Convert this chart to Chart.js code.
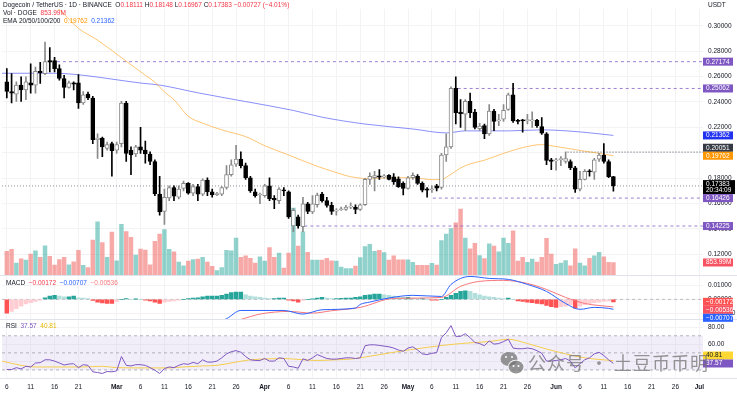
<!DOCTYPE html>
<html>
<head>
<meta charset="utf-8">
<script src="https://cdn.jsdelivr.net/npm/chart.js@4.4.1/dist/chart.umd.min.js"></script>
<style>
  html, body { margin: 0; padding: 0; background: #fff; }
  canvas { display: block; }
</style>
</head>
<body>
<canvas id="chart" width="737" height="395"></canvas>
<script>
// daily candles, Feb 6 → Jun 13 (index 0 = Feb 6)
const opens = [
  .2559,.2482,.2462,.2533,.2495,.2551,.2533,.2641,.2623,.2726,
  .2726,.2662,.2585,.2515,.2551,.2551,.2392,.2461,.2431,.2103,
  .2115,.2033,.2072,.2020,.2072,.2392,.2020,.1990,.2046,.2020,
  .1990,.1931,.1675,.1538,.1644,.1726,.1649,.1718,.1759,.1682,
  .1733,.1674,.1785,.1692,.1670,.1674,.1726,.1828,.1910,.1949,
  .1898,.1803,.1692,.1667,.1661,.1739,.1641,.1623,.1708,.1692,
  .1423,.1495,.1418,.1598,.1533,.1590,.1674,.1623,.1585,.1540,
  .1551,.1554,.1572,.1572,.1554,.1590,.1790,.1803,.1818,.1810,
  .1821,.1810,.1795,.1759,.1718,.1803,.1815,.1759,.1715,.1708,
  .1739,.1726,.1982,.2046,.2508,.2320,.2303,.2405,.2320,.2190,
  .2213,.2149,.2328,.2251,.2264,.2341,.2456,.2256,.2254,.2251,
  .2251,.2256,.2205,.2149,.1944,.1936,.1944,.1931,.1931,.1880,
  .1713,.1790,.1854,.1847,.1949,.1982,.1931,.18111
];
const highs = [
  .2662,.2623,.2559,.2597,.2597,.2700,.2674,.2713,.2872,.2828,
  .2751,.2692,.2610,.2564,.2559,.2615,.2482,.2477,.2444,.2149,
  .2123,.2084,.2084,.2084,.2405,.2405,.2046,.2059,.2200,.2092,
  .2008,.1944,.1815,.1713,.1739,.1739,.1739,.1777,.1764,.1751,
  .1751,.1795,.1803,.1713,.1687,.1733,.1898,.1944,.2059,.2008,
  .1918,.1815,.1713,.1682,.1751,.1803,.1662,.1726,.1726,.1700,
  .1559,.1508,.1649,.1610,.1662,.1682,.1687,.1649,.1610,.1559,
  .1572,.1585,.1605,.1590,.1598,.1798,.1841,.1854,.1867,.1828,
  .1828,.1836,.1810,.1770,.1815,.1841,.1828,.1770,.1726,.1739,
  .1751,.1995,.2149,.2520,.2597,.2418,.2418,.2469,.2341,.2231,
  .2226,.2379,.2341,.2303,.2379,.2469,.2546,.2264,.2264,.2303,
  .2323,.2264,.2277,.2159,.1956,.1956,.1969,.2008,.1944,.1892,
  .1854,.1867,.1867,.1956,.1995,.2072,.1944,.18148
];
const lows = [
  .2431,.2392,.2405,.2405,.2418,.2469,.2469,.2546,.2615,.2636,
  .2636,.2572,.2431,.2508,.2495,.2349,.2380,.2418,.2072,.1956,
  .1969,.2020,.1815,.1995,.2046,.1931,.1828,.1969,.1995,.1918,
  .1905,.1662,.1508,.1436,.1623,.1623,.1636,.1700,.1674,.1662,
  .1623,.1662,.1662,.1649,.1662,.1662,.1713,.1815,.1892,.1880,
  .1790,.1687,.1649,.1598,.1649,.1623,.1559,.1598,.1662,.1482,
  .1379,.1405,.1379,.1520,.1520,.1572,.1610,.1572,.1513,.1508,
  .1546,.1546,.1559,.1520,.1546,.1585,.1751,.1700,.1790,.1800,
  .1785,.1751,.1726,.1667,.1713,.1790,.1751,.1692,.1649,.1687,
  .1700,.1713,.1931,.2033,.2226,.2200,.2174,.2277,.2187,.2174,
  .2110,.2136,.2174,.2213,.2246,.2333,.2238,.2226,.2162,.2226,
  .2200,.2200,.2144,.1905,.1867,.1862,.1898,.1918,.1867,.1687,
  .1700,.1785,.1816,.1790,.1931,.1918,.1803,.16967
];
const closes = [
  .2482,.2470,.2533,.2495,.2559,.2533,.2641,.2628,.2718,.2713,
  .2662,.2585,.2515,.2551,.2541,.2392,.2456,.2431,.2103,.2115,
  .2046,.2064,.2016,.2064,.2392,.1995,.1982,.2046,.2020,.1990,
  .1931,.1675,.1533,.1649,.1726,.1657,.1713,.1759,.1682,.1733,
  .1674,.1785,.1692,.1667,.1679,.1726,.1828,.1905,.1949,.1898,
  .1803,.1700,.1661,.1670,.1739,.1636,.1628,.1713,.1700,.1495,
  .1546,.1423,.1598,.1538,.1598,.1667,.1623,.1585,.1538,.1546,
  .1556,.1572,.1575,.1554,.1590,.1790,.1815,.1820,.1808,.1818,
  .1790,.1770,.1733,.1718,.1803,.1821,.1759,.1705,.1705,.1715,
  .1721,.1982,.2046,.2508,.2315,.2308,.2405,.2315,.2200,.2210,
  .2149,.2328,.2246,.2256,.2333,.2456,.2251,.2246,.2251,.2262,
  .2254,.2213,.2154,.1939,.1931,.1941,.1954,.1954,.1880,.1713,
  .1790,.1854,.1849,.1944,.1982,.1931,.18110,.17383
];
// volume, millions of DOGE
const volumes = [
  1584,1712,813,1091,1006,1412,1626,1198,1947,1263,
  685,1049,1198,706,899,1648,663,514,2333,3531,
  2161,1198,2846,963,3360,2889,2504,1348,1733,1669,
  706,2247,2718,3017,1712,1562,877,642,942,1049,
  1070,1198,877,599,321,514,1648,1626,2461,1198,
  1284,1134,813,1220,942,1840,1198,1477,492,1477,
  4430,1926,2868,1519,1006,1006,1006,1134,963,942,
  556,449,449,621,1177,1905,2054,1584,1648,1498,
  1006,1284,1027,1027,1027,856,663,663,663,792,
  685,2290,2718,3082,3467,4366,2461,1755,2119,1305,
  1113,2076,1926,1562,2461,2119,2932,942,1198,856,
  1070,877,1198,2440,1412,728,813,984,642,1755,
  813,642,1134,1284,1519,1220,856,853.99
];
const macdHist = [
  -.0098,-.0086,-.0067,-.0048,-.0033,-.0024,-.0014,-.0005,.0012,.0024,
  .0029,.0024,.0019,.0019,.0024,.0012,.0010,.0005,-.0007,-.0019,
  -.0026,-.0029,-.0029,-.0014,0,.0005,0,.0002,0,-.0005,
  -.0010,-.0019,-.0029,-.0019,-.0014,-.0010,-.0005,0,.0005,.0010,
  .0012,.0019,.0024,.0024,.0024,.0029,.0038,.0048,.0052,.0052,
  .0033,.0024,.0019,.0014,.0010,.0005,.0005,.0010,.0010,-.0005,
  -.0010,-.0019,-.0007,0,.0002,.0010,.0014,.0010,.0005,.0005,
  .0008,.0010,.0010,.0014,.0019,.0029,.0033,.0038,.0038,.0033,
  .0029,.0024,.0019,.0014,.0014,.0010,.0005,.0005,0,-.0005,
  -.0005,0,.0014,.0029,.0043,.0057,.0062,.0057,.0043,.0033,
  .0024,.0019,.0014,.0010,.0005,.0010,0,-.0010,-.0014,-.0019,
  -.0024,-.0029,-.0033,-.0043,-.0052,-.0057,-.0052,-.0048,-.0038,-.0062,
  -.0048,-.0038,-.0029,-.0024,-.0019,-.0014,-.0010,-.00172
];
const rsiVals = [
  30.5,30.5,32.7,31.2,34.3,33.5,38.1,38.5,41.9,41.9,
  40.4,38.1,35.8,36.9,37.3,32.7,36.2,35.4,27.8,27.0,
  25.9,28.2,27.8,28.9,45.7,35.4,34.7,36.2,36.2,35.4,
  32.7,29.7,25.9,31.6,33.5,32.7,35.4,37.3,36.6,38.8,
  37.3,41.9,39.2,39.2,40.4,44.2,48.8,51.4,52.6,50.7,
  45.7,41.9,41.1,41.1,43.4,40.4,40.4,44.2,43.4,34.3,
  33.5,32.0,43.0,41.1,44.2,48.0,45.7,43.4,42.7,42.7,
  43.4,44.2,44.2,43.4,44.2,58.3,59.4,59.4,58.7,57.9,
  57.1,55.6,53.3,51.8,55.6,57.1,53.3,48.8,48.0,49.5,
  50.3,67.8,73.5,81.9,69.3,69.3,72.4,67.8,62.1,60.9,
  58.3,64.0,60.2,60.9,63.2,65.9,55.6,54.8,54.8,55.6,
  54.8,52.6,49.5,40.4,40.4,41.1,41.9,43.4,40.4,32.4,
  37.3,41.9,44.2,48.8,50.7,46.8,41.9,37.57
];

// smooth lines read at sample days
const ema50Days = [9,11,15,19,24,29,31,33,35,38,41,45,50,54,59,65,68,72,76,80,85,89,91,93,95,97,100,104,109,112,115,120,124,127];
const ema50Vals = [.3172,.3126,.2980,.2887,.2749,.2610,.2556,.2479,.2418,.2287,.2233,.2180,.2127,.2055,.1982,.1893,.1856,.1811,.1796,.1803,.1803,.1788,.1790,.1830,.1880,.1912,.1941,.1995,.2049,.2064,.2049,.2018,.1995,.19762];
const ema200Days = [-1,10,16,22,28,32,40,50,60,66,75,85,92,96,105,112,120,127];
const ema200Vals = [.2626,.2626,.2610,.2580,.2549,.2533,.2472,.2403,.2333,.2280,.2226,.2187,.2156,.2172,.2172,.2180,.2164,.21362];
const macdDays = [42,46,49,58,62,66,73,74,76,80,85,91,93,97,101,105,109,113,117,120,123,126,127];
const macdVals = [-.0190,-.0138,-.0079,-.0079,-.0105,-.0074,-.0062,-.0036,-.0019,.0010,.0029,.0021,.0107,.0164,.0150,.0143,.0107,.0057,-.0029,-.0071,-.0057,-.0064,-.00707];
const signalDays = [45,49,53,59,64,68,74,81,91,95,99,104,109,113,117,121,127];
const signalVals = [-.0175,-.0143,-.0105,-.0086,-.0098,-.0081,-.0057,.0007,.0014,.0093,.0129,.0136,.0114,.0071,.0014,-.0029,-.00536];
const rsiMaDays = [-1,3,6,16,20,23,30,34,37,41,44,48,51,55,58,62,65,69,72,74,81,88,95,101,105,109,113,117,121,127];
const rsiMaVals = [40.4,35.4,33.5,33.5,34.3,32.7,32.4,32.4,33.5,34.7,35.4,39.2,41.9,43.0,43.4,41.9,41.1,41.9,42.7,44.2,50.7,56.4,60.9,63.2,65.9,60.9,54.5,48.8,44.2,40.81];

// horizontal levels
const levelValues = [0.27174, 0.25062, 0.16426, 0.14225];
const levelFrom = [10.5, 94.4, 89.2, 62.3];
const pivotValue = 0.20051, pivotFrom = 117.4;
const countdown = '20:34:09';

// time axis
const tickDays = [0,5,10,15,23,28,33,38,43,48,54,59,64,69,74,79,84,89,94,99,104,109,115,120,125,130,135,140,145];
const tickLabels = ['6','11','16','21','Mar','6','11','16','21','26','Apr','6','11','16','21','26','May','6','11','16','21','26','Jun','6','11','16','21','26','Jul'];

const X_MIN = -1.0, X_MAX = 145.76;
const P_MIN = 0.1033, P_MAX = 0.3133;
const M_MIN = -0.0143, M_MAX = 0.0171;
const R_MIN = 20.6, R_MAX = 89.1;
const VOL_PER_PX = 64.2;
const PANE = [273, 45, 60];

const FONT = '"Liberation Sans", Arial, sans-serif';
const DARK = '#131722', RED = '#f23645', ORANGE = '#ff9800', BLUE = '#2962ff';
const PURPLE = '#7e57c2', YELLOW = '#f5cd4c';
const GRID = '#f3f3f5';

Chart.defaults.font.family = FONT;
Chart.defaults.font.size = 6.5;
Chart.defaults.color = DARK;

const last = closes.length - 1;
const isUp = closes.map((c, i) => c >= opens[i]);
const pts = (days, vals) => days.map((d, i) => ({ x: d, y: vals[i] }));
const hline = (from, v) => [{ x: from, y: v }, { x: X_MAX, y: v }];

const histColors = macdHist.map((v, i) => {
  const p = i > 0 ? macdHist[i - 1] : (v >= 0 ? -Infinity : Infinity);
  if (v >= 0) return v >= p ? '#26a69a' : '#b2dfdb';
  return v <= p ? '#ff5252' : '#ffcdd2';
});

const lineBase = { type: 'line', pointRadius: 0, borderWidth: 1, fill: false };

const datasets = [
  // RSI pane background + guides
  { ...lineBase, data: hline(X_MIN, 70), yAxisID: 'rsi', borderWidth: 0,
    fill: { value: 30 }, backgroundColor: 'rgba(126,87,194,0.10)', order: 30 },
  ...[70, 50, 30].map(v => ({ ...lineBase, data: hline(X_MIN, v), yAxisID: 'rsi',
    borderColor: 'rgba(120,123,134,0.55)', borderDash: [3, 3], order: 29 })),
  // MACD zero
  { ...lineBase, data: hline(X_MIN, 0), yAxisID: 'macd', borderColor: 'rgba(120,123,134,0.45)',
    borderDash: [3, 3], order: 29 },
  // volume
  { type: 'bar', data: volumes.map((v, i) => ({ x: i, y: v })), yAxisID: 'vol', grouped: false,
    barThickness: 3.8, backgroundColor: isUp.map(u => u ? 'rgba(38,166,154,0.5)' : 'rgba(239,83,80,0.5)'),
    order: 25 },
  // levels
  ...levelValues.map((v, i) => ({ ...lineBase, data: hline(levelFrom[i], v), yAxisID: 'price',
    borderColor: 'rgba(126,87,194,0.75)', borderDash: [3, 3], order: 20 })),
  { ...lineBase, data: hline(pivotFrom, pivotValue), yAxisID: 'price', borderColor: '#50535e',
    borderDash: [1, 2], order: 20 },
  { ...lineBase, data: hline(X_MIN, closes[last]), yAxisID: 'price', borderColor: '#8a8d96',
    borderDash: [1, 2], order: 20 },
  // EMAs
  { ...lineBase, data: pts(ema50Days, ema50Vals), yAxisID: 'price', borderColor: 'rgba(255,152,0,0.55)',
    cubicInterpolationMode: 'monotone', order: 18 },
  { ...lineBase, data: pts(ema200Days, ema200Vals), yAxisID: 'price', borderColor: 'rgba(60,70,245,0.6)',
    cubicInterpolationMode: 'monotone', order: 18 },
  // candles
  { type: 'bar', data: lows.map((l, i) => ({ x: i, y: [l, highs[i]] })), yAxisID: 'price', grouped: false,
    barThickness: 1, backgroundColor: isUp.map(u => u ? '#8a8a8a' : '#000'), order: 12 },
  { type: 'bar', data: opens.map((o, i) => ({ x: i, y: [o, closes[i]] })), yAxisID: 'price', grouped: false,
    barThickness: 4, minBarLength: 1, borderWidth: 1, borderSkipped: false,
    backgroundColor: isUp.map(u => u ? '#ffffff' : '#000'),
    borderColor: isUp.map(u => u ? '#8a8a8a' : '#000'), order: 10 },
  // MACD
  { type: 'bar', data: macdHist.map((v, i) => ({ x: i, y: v })), yAxisID: 'macd', grouped: false,
    barThickness: 3.8, backgroundColor: histColors, order: 15 },
  { ...lineBase, data: pts(macdDays, macdVals), yAxisID: 'macd', borderColor: BLUE,
    cubicInterpolationMode: 'monotone', order: 5 },
  { ...lineBase, data: pts(signalDays, signalVals), yAxisID: 'macd', borderColor: '#f7767a',
    cubicInterpolationMode: 'monotone', order: 5 },
  // RSI
  { ...lineBase, data: pts(rsiMaDays, rsiMaVals), yAxisID: 'rsi', borderColor: YELLOW,
    cubicInterpolationMode: 'monotone', order: 6 },
  { ...lineBase, data: rsiVals.map((v, i) => ({ x: i, y: v })), yAxisID: 'rsi', borderColor: PURPLE, order: 5 }
];

const fmtSigned = (v, d) => (v < 0 ? '\u2212' : '') + Math.abs(v).toFixed(d);
const yAxis = (extra) => Object.assign({
  position: 'right', stack: 'panes',
  afterFit: s => { s.width = 34; },
  grid: { color: GRID, drawTicks: false },
  border: { display: false }
}, extra);

// clip every dataset to its own pane
const paneClip = {
  id: 'paneClip',
  beforeDatasetDraw(chart, args) {
    const ys = args.meta.yScale, a = chart.chartArea, ctx = chart.ctx;
    ctx.save();
    ctx.beginPath();
    ctx.rect(a.left, ys.top, a.width, ys.height);
    ctx.clip();
  },
  afterDatasetDraw(chart) { chart.ctx.restore(); }
};

function drawParts(ctx, x, y, parts) {
  for (const [t, c] of parts) {
    ctx.fillStyle = c;
    ctx.fillText(t, x, y);
    x += ctx.measureText(t).width;
  }
}

function drawTags(chart, scaleId, tags, dir) {
  const s = chart.scales[scaleId], ctx = chart.ctx;
  const items = tags.map(t => {
    const y = s.getPixelForValue(t.v);
    return Object.assign({ top: y - 4, h: t.t2 ? 14 : 8 }, t);
  }).sort((a, b) => a.top - b.top);
  if (dir > 0) {
    for (let i = 1; i < items.length; i++) {
      const p = items[i - 1];
      if (items[i].top < p.top + p.h) items[i].top = p.top + p.h;
    }
  } else {
    for (let i = items.length - 2; i >= 0; i--) {
      const n = items[i + 1];
      if (items[i].top + items[i].h > n.top) items[i].top = n.top - items[i].h;
    }
  }
  const x0 = chart.chartArea.right;
  ctx.textBaseline = 'middle';
  ctx.textAlign = 'left';
  for (const t of items) {
    ctx.fillStyle = t.bg;
    ctx.fillRect(x0, t.top, t.t2 ? 32 : 30, t.h);
    ctx.fillStyle = t.fg || '#fff';
    ctx.fillText(t.text, x0 + 3, t.top + 4.2);
    if (t.t2) ctx.fillText(t.t2, x0 + 3, t.top + 10.5);
  }
}

const overlay = {
  id: 'overlay',
  afterDraw(chart) {
    const ctx = chart.ctx, a = chart.chartArea;
    const price = chart.scales.price, macd = chart.scales.macd, rsi = chart.scales.rsi;
    ctx.save();
    // pane separators
    ctx.strokeStyle = '#e0e3eb';
    ctx.lineWidth = 1;
    [price.bottom, macd.bottom, rsi.bottom].forEach(y => {
      ctx.beginPath();
      ctx.moveTo(0, Math.round(y) + 0.5);
      ctx.lineTo(chart.width, Math.round(y) + 0.5);
      ctx.stroke();
    });

    ctx.font = '6.5px ' + FONT;
    ctx.textBaseline = 'middle';
    ctx.textAlign = 'left';
    const c = closes[last], prev = closes[last - 1], ch = c - prev;
    drawParts(ctx, 3, 5, [
      ['Dogecoin / TetherUS \u00b7 1D \u00b7 BINANCE  ', DARK],
      ['O', DARK], [opens[last].toFixed(5) + ' ', RED],
      ['H', DARK], [highs[last].toFixed(5) + ' ', RED],
      ['L', DARK], [lows[last].toFixed(5) + ' ', RED],
      ['C', DARK], [c.toFixed(5) + ' ', RED],
      [fmtSigned(ch, 5) + ' (' + fmtSigned(ch / prev * 100, 2) + '%)', RED]
    ]);
    drawParts(ctx, 3, 13, [['Vol \u00b7 DOGE  ', DARK], [volumes[last].toFixed(2) + 'M', RED]]);
    drawParts(ctx, 3, 21, [
      ['EMA 20/50/100/200  ', DARK],
      [ema50Vals[ema50Vals.length - 1].toFixed(5) + '  ', ORANGE],
      [ema200Vals[ema200Vals.length - 1].toFixed(5), BLUE]
    ]);
    drawParts(ctx, 6, macd.top + 8, [
      ['MACD  ', DARK],
      [fmtSigned(macdHist[last], 5) + '  ', RED],
      [fmtSigned(macdVals[macdVals.length - 1], 5) + '  ', BLUE],
      [fmtSigned(signalVals[signalVals.length - 1], 5), '#f7767a']
    ]);
    drawParts(ctx, 6, rsi.top + 7, [
      ['RSI  ', DARK],
      [rsiVals[last].toFixed(2) + '  ', PURPLE],
      [rsiMaVals[rsiMaVals.length - 1].toFixed(2), '#e6b800']
    ]);
    ctx.fillStyle = DARK;
    ctx.fillText('USDT', a.right + 5, 5);

    // price-axis tags
    const tags = levelValues.map(v => ({ v, text: v.toFixed(5), bg: PURPLE }));
    tags.push(
      { v: ema200Vals[ema200Vals.length - 1], text: ema200Vals[ema200Vals.length - 1].toFixed(5), bg: '#2233f0' },
      { v: pivotValue, text: pivotValue.toFixed(5), bg: '#363a45' },
      { v: ema50Vals[ema50Vals.length - 1], text: ema50Vals[ema50Vals.length - 1].toFixed(5), bg: ORANGE },
      { v: c, text: c.toFixed(5), t2: countdown, bg: '#000' }
    );
    drawTags(chart, 'price', tags, -1);
    drawTags(chart, 'vol', [{ v: volumes[last], text: volumes[last].toFixed(2) + 'M', bg: '#f7525f' }], -1);
    drawTags(chart, 'macd', [
      { v: macdHist[last], text: fmtSigned(macdHist[last], 5), bg: '#ff5252' },
      { v: signalVals[signalVals.length - 1], text: fmtSigned(signalVals[signalVals.length - 1], 5), bg: '#f7525f' },
      { v: macdVals[macdVals.length - 1], text: fmtSigned(macdVals[macdVals.length - 1], 5), bg: BLUE }
    ], 1);
    drawTags(chart, 'rsi', [
      { v: rsiMaVals[rsiMaVals.length - 1], text: rsiMaVals[rsiMaVals.length - 1].toFixed(2), bg: '#fdd835', fg: DARK },
      { v: rsiVals[last], text: rsiVals[last].toFixed(2), bg: PURPLE }
    ], -1);

    // watermark
    ctx.fillStyle = 'rgba(115,115,115,0.75)';
    ctx.beginPath(); ctx.ellipse(509, 359, 8.5, 7, 0, 0, Math.PI * 2); ctx.fill();
    ctx.strokeStyle = '#fff'; ctx.lineWidth = 1.5;
    ctx.beginPath(); ctx.ellipse(516, 367, 7.5, 6.5, 0, 0, Math.PI * 2); ctx.stroke(); ctx.fill();
    ctx.fillStyle = '#fff';
    [[506, 357], [512, 357], [513.5, 366], [518.5, 366]].forEach(([x, y]) => {
      ctx.beginPath(); ctx.arc(x, y, 1, 0, Math.PI * 2); ctx.fill();
    });
    ctx.fillStyle = 'rgba(115,115,115,0.75)';
    ctx.font = '18px "Noto Sans CJK SC", sans-serif';
    ctx.letterSpacing = '1px';
    ctx.fillText('公众号 · 土豆币币明', 528, 363);
    ctx.restore();
  }
};

new Chart(document.getElementById('chart'), {
  type: 'bar',
  data: { datasets },
  options: {
    responsive: false,
    animation: false,
    layout: { padding: 0 },
    plugins: { legend: { display: false }, tooltip: { enabled: false } },
    scales: {
      x: {
        type: 'linear', position: 'bottom', min: X_MIN, max: X_MAX, offset: false,
        afterBuildTicks: s => { s.ticks = tickDays.map(v => ({ value: v })); },
        afterFit: s => { s.height = 17; },
        ticks: {
          autoSkip: false, maxRotation: 0, minRotation: 0, padding: 5, color: DARK,
          callback: (v, i) => tickLabels[i],
          font: ctx => ({ size: 6.5, weight: /^[A-Z]/.test(tickLabels[ctx.index] || '') ? 'bold' : 'normal' })
        },
        grid: { color: GRID, drawTicks: false, offset: false },
        border: { display: false }
      },
      price: yAxis({
        stackWeight: PANE[0], min: P_MIN, max: P_MAX,
        ticks: { stepSize: 0.02, includeBounds: false, padding: 5, color: DARK, callback: v => v.toFixed(5) }
      }),
      macd: yAxis({
        stackWeight: PANE[1], min: M_MIN, max: M_MAX,
        ticks: { stepSize: 0.01, includeBounds: false, padding: 5, color: DARK, callback: v => fmtSigned(v, 5) }
      }),
      rsi: yAxis({
        stackWeight: PANE[2], min: R_MIN, max: R_MAX,
        ticks: { stepSize: 20, includeBounds: false, padding: 5, color: DARK, callback: v => v.toFixed(2) }
      }),
      // left-side boxes are laid out in reverse order: the pad goes first so volume sits on top
      pad: {
        type: 'linear', position: 'left', display: false, stack: 'left', stackWeight: PANE[1] + PANE[2]
      },
      vol: {
        type: 'linear', position: 'left', display: false, stack: 'left', stackWeight: PANE[0],
        min: 0, max: VOL_PER_PX * PANE[0]
      }
    }
  },
  plugins: [paneClip, overlay]
});
</script>
</body>
</html>
